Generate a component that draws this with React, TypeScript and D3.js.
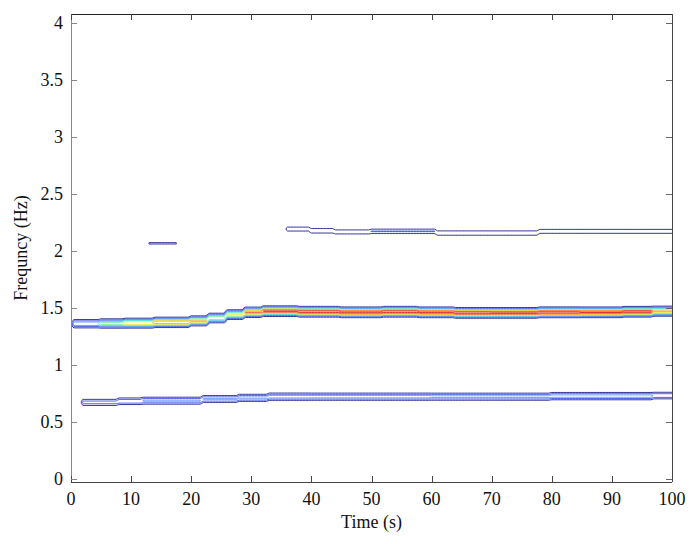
import * as d3 from "d3";

const width = 697,
  height = 544;
const plotLeft = 71,
  plotRight = 672,
  plotTop = 14,
  plotBottom = 482;

const xTicks = [0, 10, 20, 30, 40, 50, 60, 70, 80, 90, 100];
const yTicks = [0, 0.5, 1, 1.5, 2, 2.5, 3, 3.5, 4];
const xTickLabels = ["0", "10", "20", "30", "40", "50", "60", "70", "80", "90", "100"];
const yTickLabels = ["0", "0.5", "1", "1.5", "2", "2.5", "3", "3.5", "4"];

// contour levels (normalised energy) and their jet colours
const levels = [0.1, 0.2, 0.3, 0.4, 0.5, 0.6, 0.7, 0.8, 0.9];
const levelColors = [
  "#10108A",
  "#3048E8",
  "#5A8CF0",
  "#40D8F8",
  "#80F0A0",
  "#E8F040",
  "#F8A830",
  "#F06040",
  "#D82020",
];

// ridge segments: [tStart (s), tEnd (s), frequency (Hz), energy]
const mainRidge = [
  [0.5, 5, 1.36, 0.38],
  [5, 9, 1.362, 0.55],
  [9, 14, 1.365, 0.7],
  [14, 20, 1.372, 0.8],
  [20, 23, 1.385, 0.72],
  [23, 26, 1.41, 0.6],
  [26, 29, 1.44, 0.62],
  [29, 32, 1.46, 0.8],
  [32, 38, 1.47, 0.9],
  [38, 45, 1.465, 0.95],
  [45, 52, 1.46, 0.93],
  [52, 58, 1.465, 0.95],
  [58, 64, 1.46, 0.92],
  [64, 70, 1.455, 0.95],
  [70, 78, 1.455, 0.93],
  [78, 85, 1.46, 0.95],
  [85, 92, 1.46, 0.9],
  [92, 97, 1.465, 0.93],
  [97, 100, 1.47, 0.7],
];
const lowerRidge = [
  [2, 8, 0.67, 0.24],
  [8, 12, 0.68, 0.28],
  [12, 22, 0.685, 0.31],
  [22, 28, 0.7, 0.31],
  [28, 33, 0.71, 0.33],
  [33, 40, 0.72, 0.35],
  [40, 60, 0.72, 0.34],
  [60, 80, 0.72, 0.33],
  [80, 97, 0.725, 0.35],
  [97, 100, 0.73, 0.28],
];
const upperRidge = [
  [36, 40, 2.19, 0.18],
  [40, 44, 2.175, 0.21],
  [44, 50, 2.165, 0.18],
  [50, 61, 2.17, 0.21],
  [61, 78, 2.155, 0.2],
  [78, 100, 2.17, 0.18],
];
const shortRidge = [[13, 18, 2.065, 0.12]];

const ridges = [
  { segs: mainRidge, sigma: 0.022 },
  { segs: lowerRidge, sigma: 0.02 },
  { segs: upperRidge, sigma: 0.016 },
  { segs: shortRidge, sigma: 0.01 },
];

// time-frequency grid for d3.contours
const dt = 0.5,
  df = 0.01,
  fMin = -0.03,
  fMax = 4.08;
const n = Math.round(100 / dt) + 1;
const m = Math.round((fMax - fMin) / df) + 1;
const grid = new Float64Array(n * m);
ridges.forEach(({ segs, sigma }) => {
  segs.forEach(([t0, t1, fc, a]) => {
    for (let i = 0; i < n; i++) {
      const t = i * dt;
      if (t < t0 || (t >= t1 && !(t1 === 100 && t === 100))) continue;
      for (let j = 0; j < m; j++) {
        const f = fMin + j * df;
        const v = a * Math.exp(-0.5 * ((f - fc) / sigma) ** 2);
        if (v > grid[i + j * n]) grid[i + j * n] = v;
      }
    }
  });
});

const x = d3.scaleLinear([0, 100], [plotLeft, plotRight]);
const y = d3.scaleLinear([-0.028, 4.076], [plotBottom, plotTop]);

const App = () => {
  const contours = d3.contours().size([n, m]).thresholds(levels)(Array.from(grid));
  const path = d3.geoPath(
    d3.geoTransform({
      point(cx, cy) {
        this.stream.point(x((cx - 0.5) * dt), y(fMin + (cy - 0.5) * df));
      },
    }),
  );

  return (
    <svg
      width={width}
      height={height}
      style={{ position: "absolute", left: 0, top: 0, background: "#fff" }}
      fontFamily="'Liberation Serif', 'Times New Roman', serif"
    >
      <defs>
        <clipPath id="plot-area">
          <rect x={plotLeft} y={plotTop} width={plotRight - plotLeft} height={plotBottom - plotTop} />
        </clipPath>
      </defs>
      <rect x={0} y={0} width={width} height={height} fill="#fff" />
      <g clipPath="url(#plot-area)" fill="none" strokeWidth={1} strokeOpacity={0.85}>
        {contours.map((c, i) => (
          <path key={i} d={path(c)} stroke={levelColors[i]} />
        ))}
      </g>

      {/* box */}
      <line x1={plotLeft} x2={plotRight} y1={plotTop + 0.5} y2={plotTop + 0.5} stroke="#222" />
      <line x1={plotLeft} x2={plotRight} y1={plotBottom + 0.5} y2={plotBottom + 0.5} stroke="#444" />
      <line x1={plotLeft + 0.5} x2={plotLeft + 0.5} y1={plotTop} y2={plotBottom} stroke="#888" />
      <line x1={plotRight + 0.5} x2={plotRight + 0.5} y1={plotTop} y2={plotBottom} stroke="#444" />

      {/* x ticks */}
      {xTicks.map((t, i) => (
        <g key={t}>
          <line x1={Math.round(x(t)) + 0.5} x2={Math.round(x(t)) + 0.5} y1={plotBottom} y2={plotBottom - 6} stroke="#444" />
          <line x1={Math.round(x(t)) + 0.5} x2={Math.round(x(t)) + 0.5} y1={plotTop} y2={plotTop + 6} stroke="#444" />
          <text x={x(t)} y={505} fontSize={18} textAnchor="middle" fill="#111">
            {xTickLabels[i]}
          </text>
        </g>
      ))}

      {/* y ticks */}
      {yTicks.map((f, i) => (
        <g key={f}>
          <line x1={plotLeft} x2={plotLeft + 6} y1={Math.round(y(f)) + 0.5} y2={Math.round(y(f)) + 0.5} stroke="#888" />
          <line x1={plotRight} x2={plotRight - 6} y1={Math.round(y(f)) + 0.5} y2={Math.round(y(f)) + 0.5} stroke="#666" />
          <text x={63} y={y(f)} dy="0.35em" fontSize={18} textAnchor="end" fill="#111">
            {yTickLabels[i]}
          </text>
        </g>
      ))}

      <text x={(plotLeft + plotRight) / 2} y={528} fontSize={18} textAnchor="middle" fill="#111">
        Time (s)
      </text>
      <text
        transform={`translate(27, ${(plotTop + plotBottom) / 2}) rotate(-90)`}
        fontSize={18}
        textAnchor="middle"
        fill="#111"
      >
        Frequncy (Hz)
      </text>
    </svg>
  );
};

export default App;
